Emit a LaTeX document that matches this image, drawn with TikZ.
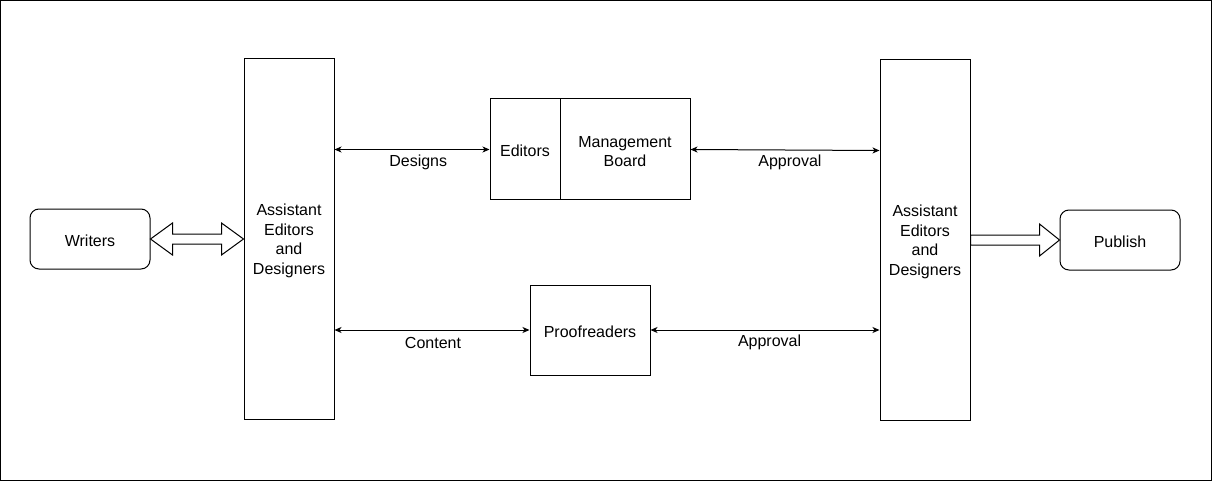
\documentclass[tikz,border=0pt]{standalone}
\usepackage{fontspec}
\setmainfont{Liberation Sans}
\usetikzlibrary{arrows.meta,calc}
\newcommand\firstlinelift{\rule{0pt}{15.5pt}}
\begin{document}
\begin{tikzpicture}[x=1pt,y=-1pt,
  every node/.style={font=\fontsize{16}{19.5}\selectfont, align=center, inner sep=0pt,
    execute at begin node={\rule{0pt}{14.5pt}}},
  box/.style={draw, line width=1pt, minimum width=#1},
  rbox/.style={draw, line width=1pt, rounded corners=9pt, minimum width=120pt, minimum height=60pt},
  conn/.style={line width=1pt, {Stealth[length=7pt,width=6pt,inset=2pt]}-{Stealth[length=7pt,width=6pt,inset=2pt]}},
  blockarrow/.style={draw, line width=1pt, fill=white, line join=miter},
  lbl/.style={yshift=-11pt}]
\useasboundingbox (0,0) rectangle (1212,481);
\draw[line width=1pt] (0.5,0.5) rectangle (1211.5,480.5);

\node[rbox] (writers) at (90,239) {Writers};
\node[box=90pt, minimum height=360pt] (aedL) at (289,239) {\firstlinelift Assistant\\Editors\hspace*{4.4pt}\\and\hspace*{3.4pt}\\Designers};
\node[box=70pt, minimum height=101pt] (editors) at (525,149.5) {Editors};
\node[box=130pt, minimum height=101pt] (board) at (625,149.5) {\firstlinelift Management\\Board};
\node[box=120pt, minimum height=90pt] (proof) at (590,330) {Proofreaders};
\node[box=90pt, minimum height=360pt] (aedR) at (925,240) {\firstlinelift Assistant\\Editors\hspace*{4.4pt}\\and\hspace*{3.4pt}\\Designers};
\node[rbox] (publish) at (1120,240) {Publish};

% double block arrow Writers <-> AED
\draw[blockarrow] (writers.east)
  -- ++(22,-16) -- ++(0,11)
  -- ($(aedL.west|-writers.east)+(-22,-5)$) -- ++(0,-11)
  -- (aedL.west|-writers.east)
  -- ++(-22,16) -- ++(0,-11)
  -- ($(writers.east)+(22,5)$) -- ++(0,11) -- cycle;

% block arrow AED -> Publish
\draw[blockarrow] ($(aedR.east)+(0,-5)$)
  -- ($(publish.west)+(-20,-5)$) -- ++(0,-11)
  -- (publish.west)
  -- ++(-20,16) -- ++(0,-11)
  -- ($(aedR.east)+(0,5)$) -- cycle;

\draw[conn] (aedL.east|-editors.west) -- (editors.west)
  node[lbl, pos=.54] {Designs};
\draw[conn] (board.east) -- ($(aedR.west|-board.east)+(0,1)$)
  node[lbl, pos=.526] {Approval};
\draw[conn] (aedL.east|-proof.west) -- (proof.west)
  node[lbl, pos=.505] {Content};
\draw[conn] (proof.east) -- (aedR.west|-proof.east)
  node[lbl, pos=.52] {Approval};
\end{tikzpicture}
\end{document}
